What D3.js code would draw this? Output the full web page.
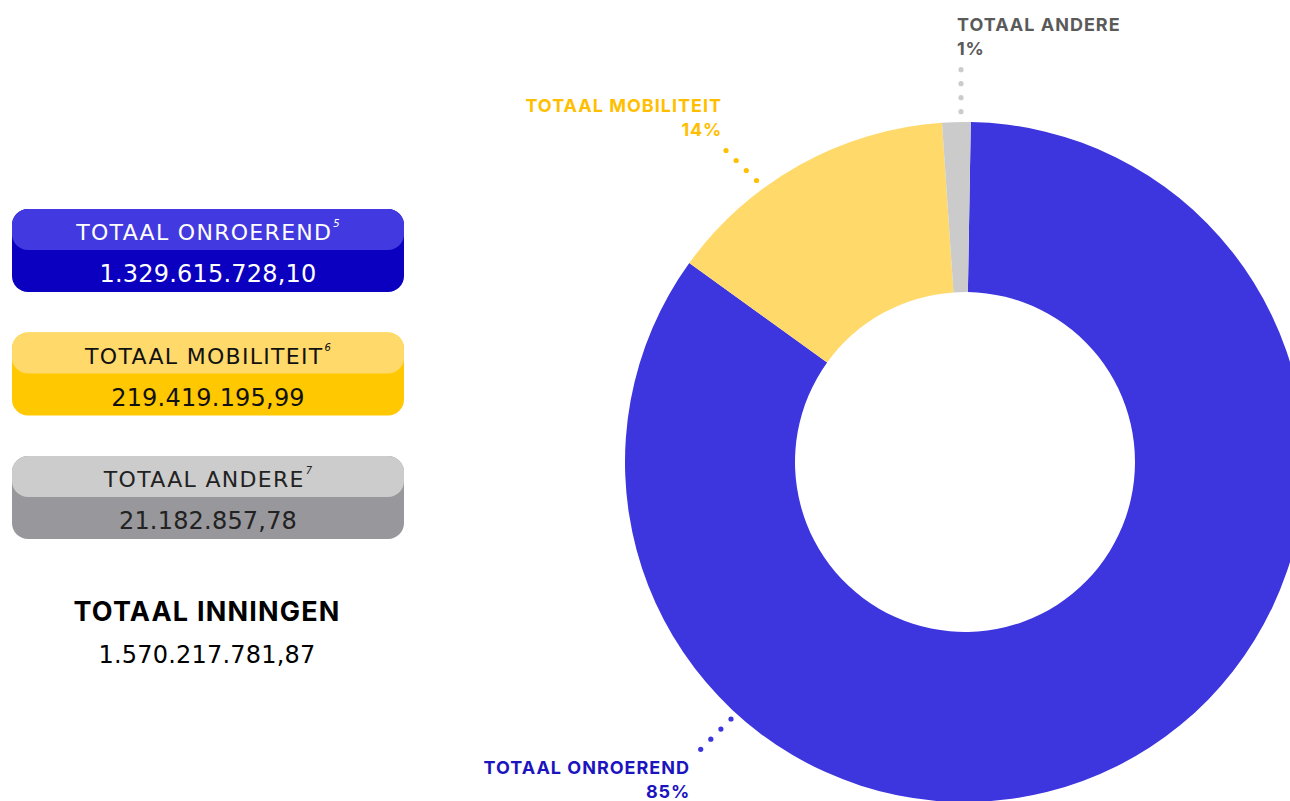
<!DOCTYPE html>
<html lang="nl">
<head>
    <meta charset="UTF-8">
    <title>Totaal inningen</title>
    <script src="https://d3js.org/d3.v7.min.js"></script>
    <style>
        html, body {
            margin: 0;
            padding: 0;
            background: #fff;
        }
        svg {
            display: block;
            font-family: Inter, "Noto Sans", sans-serif;
        }
        .wide {
            font-family: "DejaVu Sans", sans-serif;
        }
    </style>
</head>
<body>
<svg id="chart" width="1290" height="801"></svg>

<script>
    // data
    const categories = ["TOTAAL ONROEREND", "TOTAAL MOBILITEIT", "TOTAAL ANDERE"];
    const amounts = [1329615728.10, 219419195.99, 21182857.78];
    const amountLabels = ["1.329.615.728,10", "219.419.195,99", "21.182.857,78"];
    const footnotes = ["5", "6", "7"];
    const percentLabels = ["85%", "14%", "1%"];
    const totalLabel = "TOTAAL INNINGEN";
    const totalValue = "1.570.217.781,87";

    // colours per category
    const sliceColors = ["#3d35de", "#ffda6b", "#cbcbcb"];
    const boxTop = ["#4339e0", "#ffda6b", "#cccccc"];
    const boxBottom = ["#0c00c0", "#ffc800", "#98979b"];
    const boxText = ["#ffffff", "#111111", "#222222"];
    const labelColors = ["#1c14bf", "#ffbf00", "#5a5a5a"];
    const dotColors = ["#3d35de", "#ffc000", "#cccccc"];

    const svg = d3.select("#chart");

    // ---- left: boxes ----
    const boxX = 12, boxW = 392, boxH = 83, topH = 41;
    const boxY = d3.scalePoint().domain(categories).range([209, 456]);

    const boxes = svg.selectAll(".box")
        .data(categories)
        .enter().append("g")
        .attr("class", "box")
        .attr("transform", d => `translate(${boxX},${boxY(d)})`);

    boxes.append("rect")
        .attr("width", boxW)
        .attr("height", boxH)
        .attr("rx", 16)
        .attr("fill", (d, i) => boxBottom[i]);

    boxes.append("rect")
        .attr("width", boxW)
        .attr("height", topH)
        .attr("rx", 16)
        .attr("fill", (d, i) => boxTop[i]);

    const titles = boxes.append("text")
        .attr("class", "wide")
        .attr("x", boxW / 2)
        .attr("y", 31)
        .attr("text-anchor", "middle")
        .style("font-size", "22px")
        .style("letter-spacing", "1.3px")
        .attr("fill", (d, i) => boxText[i]);
    titles.append("tspan").text(d => d);
    titles.append("tspan")
        .attr("dy", -13)
        .attr("dx", 1)
        .style("font-size", "10px")
        .style("font-style", "italic")
        .style("letter-spacing", "0px")
        .text((d, i) => footnotes[i]);

    boxes.append("text")
        .attr("class", "wide")
        .attr("x", boxW / 2)
        .attr("y", 73)
        .attr("text-anchor", "middle")
        .style("font-size", "24px")
        .style("letter-spacing", "0.2px")
        .attr("fill", (d, i) => boxText[i])
        .text((d, i) => amountLabels[i]);

    svg.append("text")
        .attr("x", 207)
        .attr("y", 621)
        .attr("text-anchor", "middle")
        .style("font-size", "27px")
        .style("font-weight", "700")
        .style("letter-spacing", "1.2px")
        .attr("fill", "#000")
        .text(totalLabel);

    svg.append("text")
        .attr("class", "wide")
        .attr("x", 207)
        .attr("y", 663)
        .attr("text-anchor", "middle")
        .style("font-size", "24px")
        .style("letter-spacing", "0.2px")
        .attr("fill", "#000")
        .text(totalValue);

    // ---- right: donut ----
    const cx = 965, cy = 462, outerR = 340, innerR = 170;
    const startA = 0.017;

    const pie = d3.pie()
        .sort(null)
        .startAngle(startA)
        .endAngle(startA + 2 * Math.PI);
    const arc = d3.arc().innerRadius(innerR).outerRadius(outerR);

    const donut = svg.append("g")
        .attr("transform", `translate(${cx},${cy})`);

    donut.selectAll(".slice")
        .data(pie(amounts))
        .enter().append("path")
        .attr("class", "slice")
        .attr("d", arc)
        .attr("fill", (d, i) => sliceColors[i]);

    // outside labels: anchor point, alignment, leader start/end
    const labelLayout = [
        { x: 690, y: 774, anchor: "end", from: [700.7, 749.3], to: [731, 719] },
        { x: 722, y: 112, anchor: "end", from: [726, 150.5], to: [756.5, 180.5] },
        { x: 957, y: 31, anchor: "start", from: [961, 69.7], to: [961, 111.7] }
    ];

    const labels = svg.selectAll(".slice-label")
        .data(categories)
        .enter().append("g")
        .attr("class", "slice-label");

    labels.append("text")
        .attr("x", (d, i) => labelLayout[i].x)
        .attr("y", (d, i) => labelLayout[i].y)
        .attr("text-anchor", (d, i) => labelLayout[i].anchor)
        .style("font-size", "18px")
        .style("font-weight", "700")
        .style("letter-spacing", "1px")
        .attr("fill", (d, i) => labelColors[i])
        .text(d => d);

    labels.append("text")
        .attr("x", (d, i) => labelLayout[i].x)
        .attr("y", (d, i) => labelLayout[i].y + 24)
        .attr("text-anchor", (d, i) => labelLayout[i].anchor)
        .style("font-size", "18px")
        .style("font-weight", "700")
        .style("letter-spacing", "0.8px")
        .attr("fill", (d, i) => labelColors[i])
        .text((d, i) => percentLabels[i]);

    // dotted leaders, 4 dots each
    labels.each(function(d, i) {
        const L = labelLayout[i];
        const t = d3.scaleLinear().domain([0, 3]);
        const px = t.copy().range([L.from[0], L.to[0]]);
        const py = t.copy().range([L.from[1], L.to[1]]);
        d3.select(this).selectAll("circle")
            .data(d3.range(4))
            .enter().append("circle")
            .attr("cx", k => px(k))
            .attr("cy", k => py(k))
            .attr("r", 2.6)
            .attr("fill", dotColors[i]);
    });
</script>
</body>
</html>
